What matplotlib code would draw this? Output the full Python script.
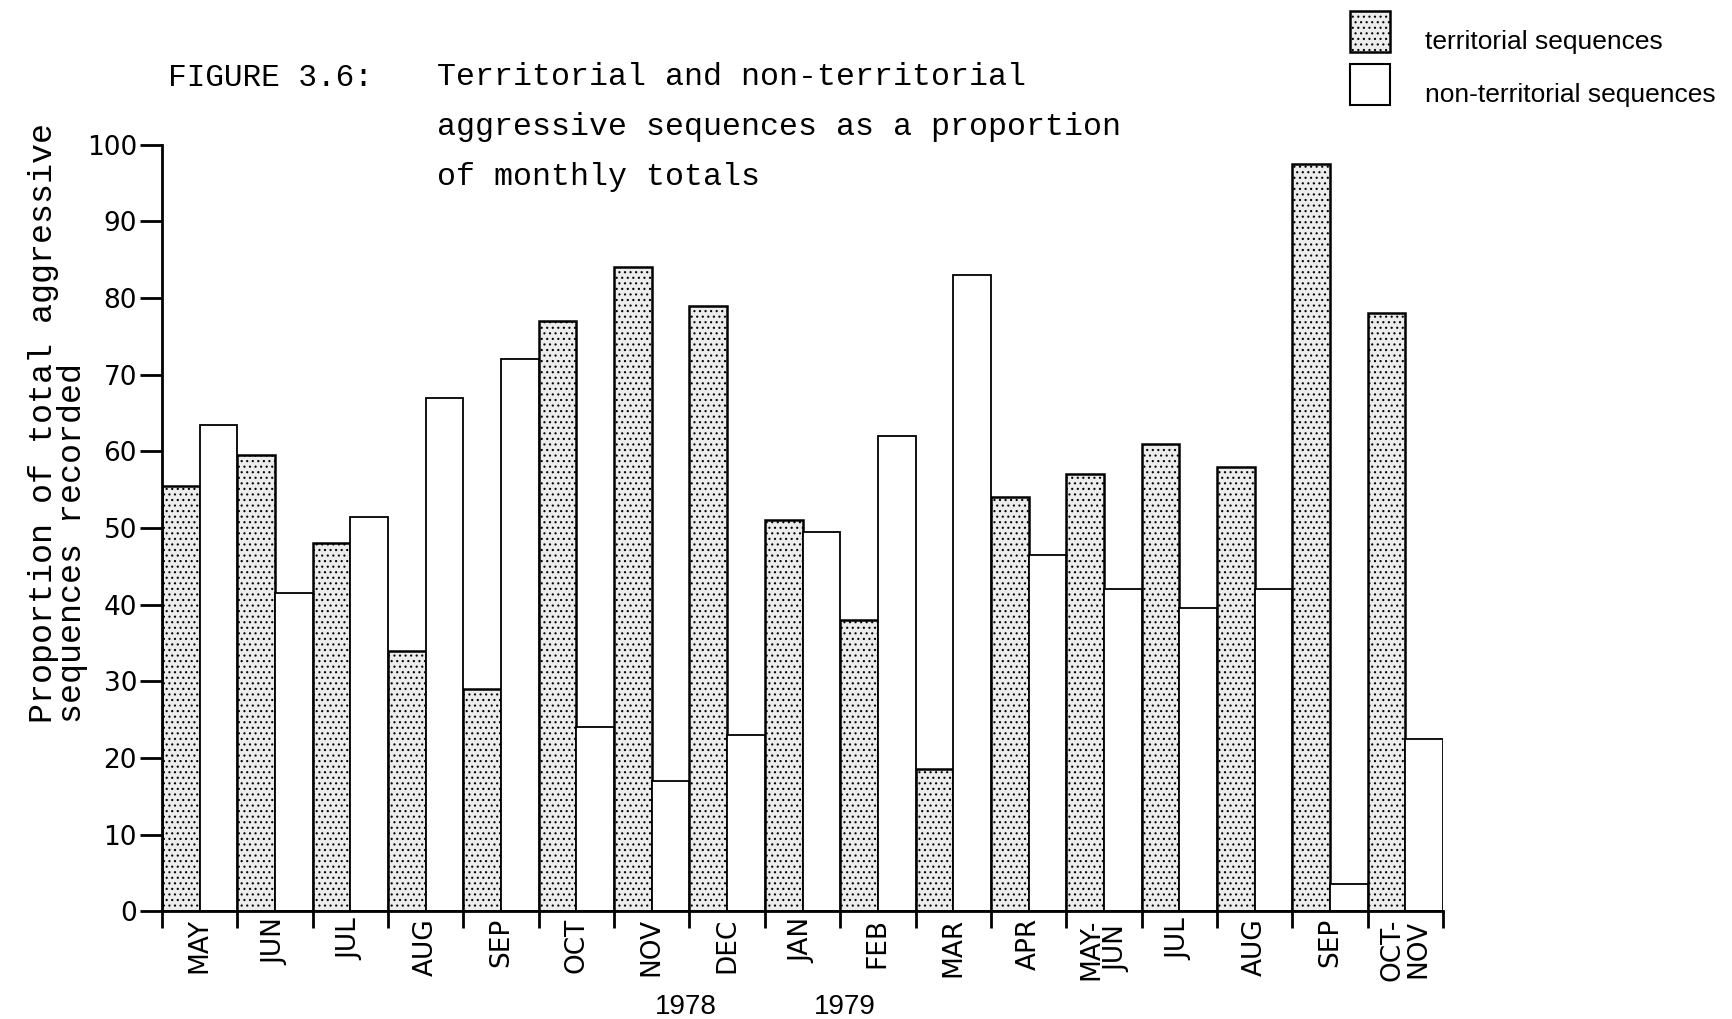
import numpy as np
import matplotlib
matplotlib.use('Agg')
from matplotlib import pyplot as plt
from matplotlib.patches import Rectangle

months = ['MAY', 'JUN', 'JUL', 'AUG', 'SEP', 'OCT', 'NOV', 'DEC', 'JAN', 'FEB',
          'MAR', 'APR', 'MAY-\nJUN', 'JUL', 'AUG', 'SEP', 'OCT-\nNOV']
territorial = [55.5, 59.5, 48, 34, 29, 77, 84, 79, 51, 38, 18.5, 54, 57, 61, 58, 97.5, 78]
nonTerritorial = [63.5, 41.5, 51.5, 67, 72, 24, 17, 23, 49.5, 62, 83, 46.5, 42, 39.5, 42, 3.5, 22.5]
years = ['1978', '1979']
yearPositions = [6.95, 9.06]
yTicks = list(range(0, 101, 10))

W, H = 1732, 1019
mono = 'Liberation Mono'
sans = 'DejaVu Sans'
narrow = 'Liberation Sans'
plt.rcParams['hatch.linewidth'] = 0.8

fig = plt.figure(figsize=(W / 100, H / 100), dpi=100)
fig.patch.set_facecolor('white')
ax = fig.add_axes([162 / W, 107.7 / H, (1443 - 162) / W, 766.6 / H])

x = np.arange(len(months))
ax.bar(x + 0.25, territorial, width=0.5, facecolor='#ececec', edgecolor='black',
       hatch='...', linewidth=1.8)
ax.bar(x + 0.75, nonTerritorial, width=0.5, facecolor='white', edgecolor='black',
       linewidth=1.3)

ax.set_xlim(0, len(months))
ax.set_ylim(0, 100)
ax.spines[['top', 'right']].set_visible(False)
ax.spines['left'].set_linewidth(2)
ax.spines['bottom'].set_linewidth(2)

ax.set_yticks(yTicks)
ax.tick_params(axis='y', length=16, width=2, pad=2, labelsize=19)
for lab in ax.get_yticklabels():
    lab.set_family(sans)

ax.set_xticks(np.arange(len(months) + 1))
ax.set_xticklabels([])
ax.tick_params(axis='x', which='major', length=12, width=2)
ax.set_xticks(x + 0.5, minor=True)
ax.set_xticklabels(months, minor=True, rotation=90, fontsize=19, linespacing=1.0,
                   family=sans)
ax.tick_params(axis='x', which='minor', length=0, pad=5)

for yr, pos in zip(years, yearPositions):
    ax.text(pos, -0.125, yr, transform=ax.get_xaxis_transform(), ha='center', va='center',
            fontsize=20, family=narrow)

# title block
fig.text(168 / W, 1 - 78 / H, 'FIGURE 3.6:', family=mono, fontsize=22.4, va='center')
titleLines = ['Territorial and non-territorial',
              'aggressive sequences as a proportion',
              'of monthly totals']
for i, line in enumerate(titleLines):
    fig.text(437 / W, 1 - (77 + 50 * i) / H, line, family=mono, fontsize=22.8, va='center')

# y label
fig.text(58 / W, 1 - 723 / H, 'Proportion of total aggressive\nsequences recorded',
         rotation=90, ha='center', va='bottom', multialignment='left',
         family=mono, fontsize=24, linespacing=0.9)

# legend
fig.add_artist(Rectangle((1350 / W, 1 - 52 / H), 40 / W, 41 / H, transform=fig.transFigure,
                         facecolor='#ececec', edgecolor='black', hatch='...', linewidth=1.8))
fig.add_artist(Rectangle((1350 / W, 1 - 105 / H), 40 / W, 41 / H, transform=fig.transFigure,
                         facecolor='white', edgecolor='black', linewidth=1.5))
fig.text(1425 / W, 1 - 42 / H, 'territorial sequences', fontsize=19, va='center',
         family=narrow)
fig.text(1425 / W, 1 - 95 / H, 'non-territorial sequences', fontsize=19, va='center',
         family=narrow)

fig.savefig('out.png', dpi=100, facecolor='white')
